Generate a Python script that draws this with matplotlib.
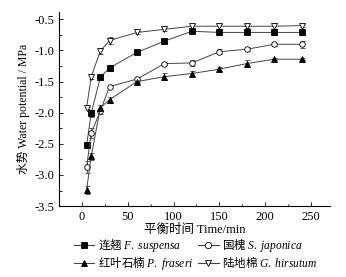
import matplotlib
matplotlib.use("Agg")
from matplotlib import pyplot as plt
from matplotlib.lines import Line2D
from matplotlib.ticker import MultipleLocator

plt.rcParams['font.family'] = ['Liberation Serif', 'Noto Sans CJK SC']
plt.rcParams['mathtext.fontset'] = 'custom'
plt.rcParams['mathtext.it'] = 'Liberation Serif:italic'
plt.rcParams['mathtext.rm'] = 'Liberation Serif'

# Balance time (min)
times = [5, 10, 20, 30, 60, 90, 120, 150, 180, 210, 240]

# Water potential (MPa) and error bars
f_suspensa = [-2.52, -2.01, -1.43, -1.28, -1.03, -0.85, -0.69, -0.71, -0.71, -0.71, -0.71]
f_suspensa_err = [0.05, 0.06, 0.04, 0.05, 0.02, 0.02, 0.03, 0.04, 0.03, 0.04, 0.04]
s_japonica = [-2.87, -2.33, -1.97, -1.58, -1.46, -1.21, -1.20, -1.02, -0.98, -0.90, -0.90]
s_japonica_err = [0.10, 0.08, 0.05, 0.03, 0.04, 0.03, 0.05, 0.04, 0.03, 0.02, 0.06]
p_fraseri = [-3.24, -2.70, -1.92, -1.79, -1.50, -1.42, -1.37, -1.30, -1.21, -1.14, -1.14]
p_fraseri_err = [0.06, 0.06, 0.05, 0.05, 0.03, 0.06, 0.04, 0.03, 0.05, 0.02, 0.02]
g_hirsutum = [-1.92, -1.42, -1.01, -0.84, -0.71, -0.66, -0.61, -0.61, -0.61, -0.61, -0.60]
g_hirsutum_err = [0.02, 0.04, 0.05, 0.06, 0.03, 0.02, 0.03, 0.04, 0.03, 0.05, 0.02]

series = [
    (f_suspensa, f_suspensa_err, 's', 'k', '连翘 $\\mathit{F.\\ suspensa}$'),
    (s_japonica, s_japonica_err, 'o', 'white', '国槐 $\\mathit{S.\\ japonica}$'),
    (p_fraseri, p_fraseri_err, '^', 'k', '红叶石楠 $\\mathit{P.\\ fraseri}$'),
    (g_hirsutum, g_hirsutum_err, 'v', 'white', '陆地棉 $\\mathit{G.\\ hirsutum}$'),
]

fig = plt.figure(figsize=(3.46, 2.77), dpi=100)
ax = fig.add_axes([0.171, 0.256, 0.783, 0.701])

handles = {}
for vals, err, marker, face, label in series:
    ax.errorbar(times, vals, yerr=err, marker=marker, markersize=4,
                markerfacecolor=face, markeredgecolor='k', markeredgewidth=0.6,
                color='#444444', linewidth=0.7, ecolor='#444444', elinewidth=0.6,
                capsize=1.8, capthick=0.6)
    handles[label] = Line2D([], [], marker=marker, markersize=4.5, markerfacecolor=face,
                            markeredgecolor='k', markeredgewidth=0.6,
                            color='#444444', linewidth=0.8)

ax.set_xlim(-25, 271)
ax.set_ylim(-3.5, -0.38)
ax.xaxis.set_major_locator(MultipleLocator(50))
ax.xaxis.set_minor_locator(MultipleLocator(25))
ax.yaxis.set_major_locator(MultipleLocator(0.5))
ax.yaxis.set_minor_locator(MultipleLocator(0.25))
ax.yaxis.set_major_formatter(plt.FuncFormatter(lambda v, p: f"{v:.1f}"))

ax.spines['top'].set_visible(False)
ax.spines['right'].set_visible(False)
for s in ('left', 'bottom'):
    ax.spines[s].set_linewidth(0.8)
ax.tick_params(which='both', direction='in', labelsize=9, width=0.6)
ax.tick_params(which='major', length=3)
ax.tick_params(which='minor', length=1.8)

ax.set_xlabel('平衡时间 Time/min', fontsize=9, labelpad=1)
ax.set_ylabel('水势 Water potential / MPa', fontsize=8.5, labelpad=3)

# column-wise fill: left column suspensa/fraseri, right column japonica/hirsutum
order = [series[0][4], series[2][4], series[1][4], series[3][4]]
fig.legend([handles[k] for k in order], order, loc='center',
           bbox_to_anchor=(0.565, 0.082), ncol=2, frameon=False,
           prop={'family': 'Noto Sans CJK SC', 'size': 8.3},
           handlelength=1.8, handletextpad=0.3, columnspacing=0.4,
           labelspacing=0.0, borderaxespad=0)

fig.savefig('out.png', dpi=100)
